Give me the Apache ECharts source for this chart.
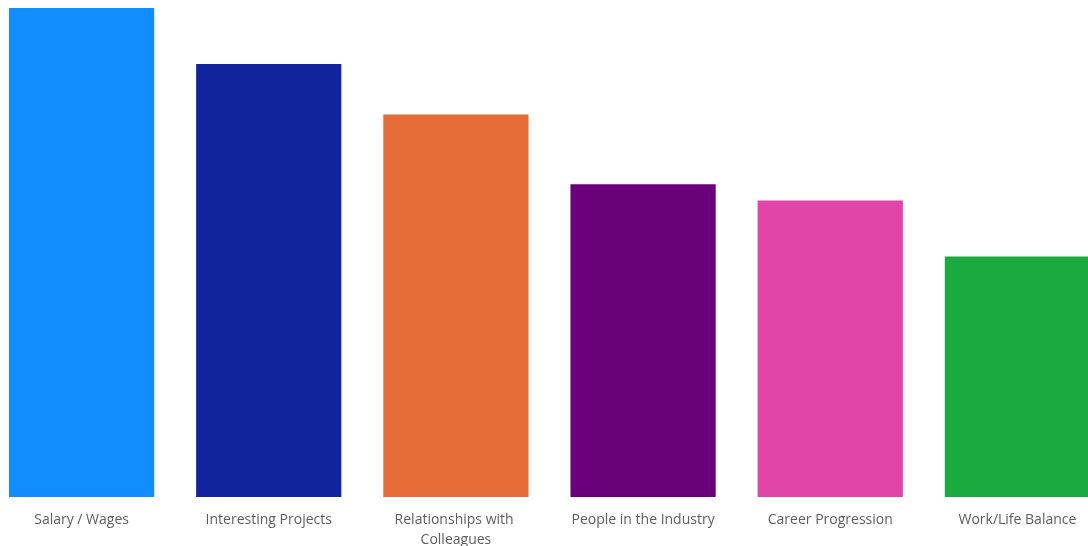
<!DOCTYPE html>
<html>
<head>
<meta charset="utf-8">
<script src="https://cdn.jsdelivr.net/npm/echarts@6/dist/echarts.min.js"></script>
<style>
	html, body { margin: 0; padding: 0; background: #fff; }
	#main { width: 1088px; height: 546px; }
</style>
</head>
<body>
<div id="main"></div>
<script>
	// categories and values
	var categories = ['Salary / Wages', 'Interesting Projects', 'Relationships with Colleagues',
		'People in the Industry', 'Career Progression', 'Work/Life Balance'];
	var values = [61, 54, 47.7, 39, 37, 30];
	var colors = ['#118DFF', '#12239E', '#E66C37', '#6B007B', '#E044A7', '#1AAB40'];

	var myChart = echarts.init(document.getElementById('main'));
	var option = {
		animation: false,
		grid: {
			left: -12,
			right: -23,
			top: 8,
			bottom: 49,
			containLabel: false,
			outerBoundsMode: 'none'
		},
		xAxis: {
			type: 'category',
			data: categories,
			axisLine: { show: false },
			axisTick: { show: false },
			axisLabel: {
				interval: 0,
				margin: 13,
				color: '#605E5C',
				fontSize: 14,
				fontFamily: 'Open Sans',
				lineHeight: 20,
				width: 170,
				overflow: 'break'
			}
		},
		yAxis: {
			type: 'value',
			min: 0,
			max: 61,
			show: false,
			splitLine: { show: false }
		},
		series: [{
			type: 'bar',
			barCategoryGap: '22.4%',
			data: values.map(function (v, i) {
				return { value: v, itemStyle: { color: colors[i] } };
			})
		}]
	};
	myChart.setOption(option);
</script>
</body>
</html>
